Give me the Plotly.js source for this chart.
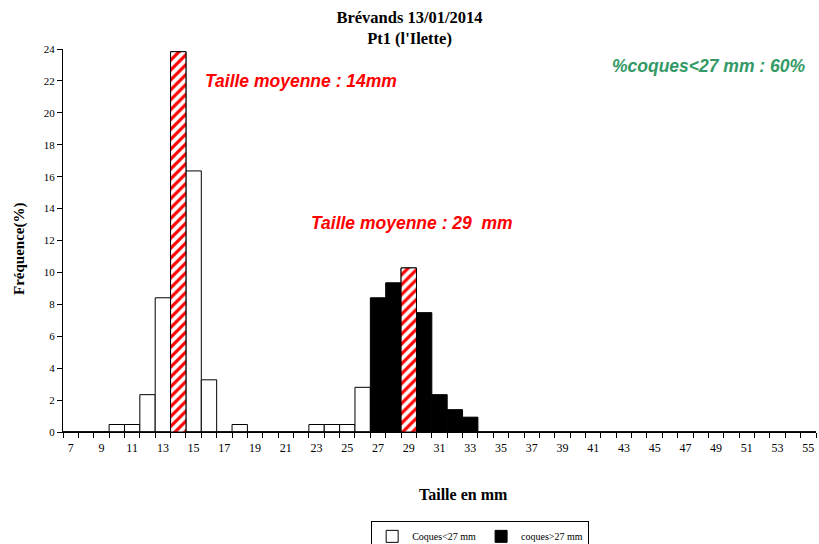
<!DOCTYPE html>
<html>
<head>
<meta charset="utf-8">
<script src="https://cdn.plot.ly/plotly-3.0.1.min.js"></script>
<style>html,body{margin:0;padding:0;background:#fff}#chart{width:819px;height:544px}</style>
</head>
<body>
<div id="chart"></div>
<script>
// Size classes (mm)
var sizes = [7,8,9,10,11,12,13,14,15,16,17,18,19,20,21,22,23,24,25,26,27,28,29,30,31,32,33,34,35,36,37,38,39,40,41,42,43,44,45,46,47,48,49,50,51,52,53,54,55];
// Frequencies (%) for shells < 27 mm
var smallFreq = [0,0,0,0.47,0.47,2.34,8.41,23.83,16.36,3.27,0,0.47,0,0,0,0,0.47,0.47,0.47,2.80,0,0,0,0,0,0,0,0,0,0,0,0,0,0,0,0,0,0,0,0,0,0,0,0,0,0,0,0,0];
// Frequencies (%) for shells > 27 mm
var largeFreq = [0,0,0,0,0,0,0,0,0,0,0,0,0,0,0,0,0,0,0,0,8.41,9.35,10.28,7.48,2.34,1.40,0.93,0,0,0,0,0,0,0,0,0,0,0,0,0,0,0,0,0,0,0,0,0,0];
// Mean size classes (highlighted)
var meanSizes = [14, 29];
var tickLabels = [7,9,11,13,15,17,19,21,23,25,27,29,31,33,35,37,39,41,43,45,47,49,51,53,55];

var meanFreq = meanSizes.map(function(s){
  var i = sizes.indexOf(s);
  return smallFreq[i] + largeFreq[i];
});
var boundaries = [sizes[0]-0.5].concat(sizes.map(function(s){return s+0.5;}));

var serif = "Liberation Serif, Times New Roman, serif";
var sans = "Liberation Sans, Arial, sans-serif";
var traces = [
  {type:'bar', name:'Coques<27 mm', x:sizes, y:smallFreq,
   marker:{color:'#ffffff', line:{color:'#000', width:1}}, width:1},
  {type:'bar', name:'coques>27 mm', x:sizes, y:largeFreq,
   marker:{color:'#000000', line:{color:'#000', width:1}}, width:1},
  {type:'bar', name:'moyenne', x:meanSizes, y:meanFreq, showlegend:false,
   marker:{color:'#ffffff', line:{color:'#000', width:1},
     pattern:{shape:'/', fgcolor:'#ff0000', bgcolor:'#ffffff', size:7, solidity:0.45}}, width:1}
];

var layout = {
  width:819, height:544,
  margin:{l:63, r:3, t:49, b:112, autoexpand:false},
  paper_bgcolor:'#fff', plot_bgcolor:'#fff',
  barmode:'overlay', bargap:0,
  title:{text:'<b>Brévands 13/01/2014<br>Pt1 (l\'Ilette)</b>', x:0.5, xref:'container', xanchor:'center',
         y:0.958, yref:'container', yanchor:'middle',
         font:{family:serif, size:16.5, color:'#000'}},
  xaxis:{range:[6.5,55.5], tickmode:'array', tickvals:tickLabels, ticktext:tickLabels.map(String),
         ticks:'', ticklabelstandoff:5, showgrid:false, zeroline:false, showline:true, linecolor:'#000', linewidth:1,
         tickfont:{family:serif, size:12, color:'#000'},
         minor:{tickmode:'array', tickvals:boundaries, ticks:'outside', ticklen:5, tickcolor:'#000', tickwidth:1, showgrid:false},
         fixedrange:true},
  yaxis:{range:[0,24], tickmode:'linear', tick0:0, dtick:2, ticks:'outside', ticklen:5, tickcolor:'#000',
         showgrid:false, zeroline:false, showline:true, linecolor:'#000', linewidth:1,
         tickfont:{family:serif, size:11, color:'#000'},
         fixedrange:true},
  legend:{orientation:'h', x:0.554, xanchor:'center', y:-0.232, yanchor:'top',
          bordercolor:'#000', borderwidth:1, bgcolor:'#fff', itemwidth:30,
          font:{family:serif, size:10, color:'#000'}, traceorder:'normal'},
  annotations:[
    {text:'<b><i>Taille moyenne : 14mm</i></b>', xref:'paper', yref:'paper', x:0.316, y:0.916,
     xanchor:'center', yanchor:'middle',
     showarrow:false, font:{family:sans, size:17.5, color:'#ff0000'}},
    {text:'<b><i>Taille moyenne : 29\u00a0 mm</i></b>', xref:'paper', yref:'paper', x:0.4635, y:0.546,
     xanchor:'center', yanchor:'middle',
     showarrow:false, font:{family:sans, size:17.5, color:'#ff0000'}},
    {text:'<b><i>%coques<27 mm : 60%</i></b>', xref:'paper', yref:'paper', x:0.858, y:0.956,
     xanchor:'center', yanchor:'middle',
     showarrow:false, font:{family:sans, size:17.5, color:'#339966'}},
    {text:'<b>Taille en mm</b>', xref:'paper', yref:'paper', x:0.5325, y:-0.162,
     xanchor:'center', yanchor:'middle',
     showarrow:false, font:{family:serif, size:16, color:'#000'}},
    {text:'<b>Fréquence(%)</b>', xref:'paper', yref:'paper', x:-0.057, y:0.478, textangle:-90,
     xanchor:'center', yanchor:'middle',
     showarrow:false, font:{family:serif, size:15, color:'#000'}}
  ],
  showlegend:true
};
Plotly.newPlot('chart', traces, layout, {staticPlot:true, displayModeBar:false});
</script>
</body>
</html>
